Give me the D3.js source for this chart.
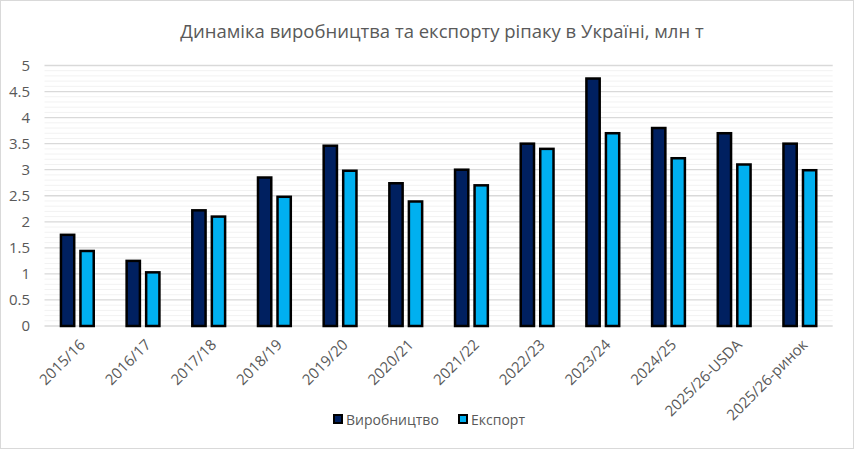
<!DOCTYPE html>
<html><head><meta charset="utf-8">
<script src="https://cdn.jsdelivr.net/npm/d3@7"></script>
<style>
html,body{margin:0;padding:0;background:#fff;}
svg{display:block;font-family:"Open Sans","Noto Sans",sans-serif;}
</style></head>
<body><svg id="chart" width="854" height="449"></svg>
<script>
const title = "Динаміка виробництва та експорту ріпаку в Україні, млн т";
const categories = ["2015/16","2016/17","2017/18","2018/19","2019/20","2020/21","2021/22","2022/23","2023/24","2024/25","2025/26-USDA","2025/26-ринок"];
const production = [1.75,1.25,2.22,2.85,3.46,2.74,3.0,3.5,4.75,3.8,3.7,3.5];
const exportVals = [1.44,1.03,2.1,2.48,2.98,2.39,2.7,3.4,3.7,3.22,3.1,2.99];
const seriesNames = ["Виробництво","Експорт"];
const seriesColors = ["#002060","#00B0F0"];
const yTicks = [0,0.5,1,1.5,2,2.5,3,3.5,4,4.5,5];

const svg = d3.select("#chart");
const W = 854, H = 449;
const FONT = "Open Sans, Noto Sans, sans-serif";
svg.append("rect").attr("x",0.5).attr("y",0.5).attr("width",W-1).attr("height",H-1)
  .attr("fill","#fff").attr("stroke","#D9D9D9");

const plot = {left:44.5, right:832.7, top:65.5, bottom:326};
const x0 = d3.scaleBand().domain(categories).range([plot.left, plot.right]).padding(0);
const x1 = d3.scaleBand().domain(seriesNames).range([-16.4,16.4]).paddingInner(0.32).paddingOuter(0);
const y = d3.scaleLinear().domain([0,5]).range([plot.bottom, plot.top]);

// minor gridlines
const minor = d3.range(0,5.0001,0.1).filter(v => Math.abs(v*2 - Math.round(v*2))>1e-6);
svg.append("g").selectAll("line").data(minor).join("line")
  .attr("x1",plot.left).attr("x2",plot.right)
  .attr("y1",d=>y(d)).attr("y2",d=>y(d))
  .attr("stroke","#F2F2F2").attr("stroke-width",1);
// major gridlines
svg.append("g").selectAll("line").data(yTicks.filter(d=>d>0)).join("line")
  .attr("x1",plot.left).attr("x2",plot.right)
  .attr("y1",d=>y(d)).attr("y2",d=>y(d))
  .attr("stroke","#D9D9D9").attr("stroke-width",1.3);
// axis baseline
svg.append("line").attr("x1",plot.left).attr("x2",plot.right)
  .attr("y1",y(0)).attr("y2",y(0)).attr("stroke","#D9D9D9").attr("stroke-width",1.5);

// y axis labels
const yAxis = d3.axisLeft(y).tickValues(yTicks).tickSize(0).tickPadding(0).tickFormat(d3.format("~g"));
const gy = svg.append("g").attr("transform",`translate(30,0)`).call(yAxis);
gy.select(".domain").remove();
gy.selectAll("text").attr("fill","#595959").attr("font-size","15px").attr("font-family",FONT);

// bars
const data = categories.map((c,i)=>({cat:c, vals:[production[i], exportVals[i]]}));
const groups = svg.append("g").selectAll("g").data(data).join("g")
  .attr("transform",d=>`translate(${x0(d.cat)+x0.bandwidth()/2},0)`);
groups.selectAll("rect").data(d=>d.vals.map((v,j)=>({name:seriesNames[j], v, j}))).join("rect")
  .attr("x",d=>x1(d.name)).attr("width",x1.bandwidth())
  .attr("y",d=>y(d.v)).attr("height",d=>y(0)-y(d.v))
  .attr("fill",d=>seriesColors[d.j]).attr("stroke","#000").attr("stroke-width",2.5);

// x axis labels
const xAxis = d3.axisBottom(x0).tickSize(0).tickPadding(0);
const gx = svg.append("g").attr("transform",`translate(0,${plot.bottom})`).call(xAxis);
gx.select(".domain").remove();
gx.selectAll("text")
  .attr("fill","#595959").attr("font-size","15px").attr("font-family",FONT)
  .attr("text-anchor","end").attr("dy","0.35em")
  .attr("transform","translate(5,16) rotate(-45)");

// title
svg.append("text").attr("x",442).attr("y",38).attr("text-anchor","middle")
  .attr("fill","#595959").attr("font-size","18.5px").text(title);

// legend
const legend = svg.append("g");
const legX = [334, 459];
seriesNames.forEach((n,i)=>{
  legend.append("rect").attr("x",legX[i]).attr("y",415).attr("width",8).attr("height",8)
    .attr("fill",seriesColors[i]).attr("stroke","#000").attr("stroke-width",2);
  legend.append("text").attr("x",legX[i]+12).attr("y",424.5).attr("fill","#595959")
    .attr("font-size","14px").text(n);
});
</script></body></html>
